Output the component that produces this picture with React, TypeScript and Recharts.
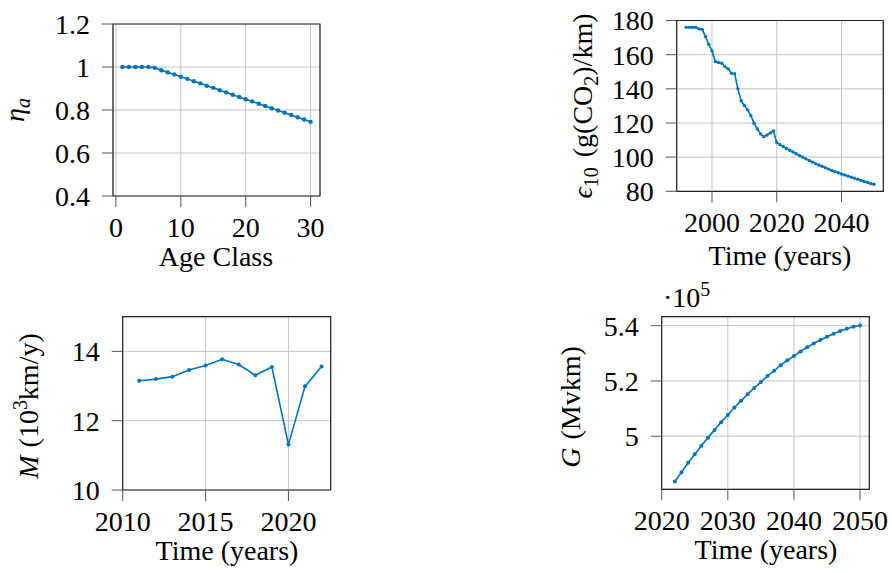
import React from 'react';
import { LineChart, Line, XAxis, YAxis, CartesianGrid, ReferenceArea } from 'recharts';

const FONT = 'Liberation Serif, DejaVu Serif, serif';
const BLUE = '#0072BD';
const FS = 28;

// Panel 1: efficiency by age class
const ageClasses = [1, 2, 3, 4, 5, 6, 7, 8, 9, 10, 11, 12, 13, 14, 15, 16, 17, 18, 19, 20, 21, 22, 23, 24, 25, 26, 27, 28, 29, 30];
const etaValues = [1, 1, 1, 1, 1, 0.996, 0.985, 0.975, 0.965, 0.955, 0.945, 0.934, 0.924, 0.913, 0.903, 0.892, 0.882, 0.871, 0.861, 0.85, 0.84, 0.829, 0.819, 0.808, 0.798, 0.787, 0.777, 0.766, 0.756, 0.745];

// Panel 2: emission factor
const emissionYears = [1992, 1993, 1994, 1995, 1996, 1997, 1998, 1999, 2000, 2001, 2002, 2003, 2004, 2005, 2006, 2007, 2008, 2009, 2010, 2011, 2012, 2013, 2014, 2015, 2016, 2017, 2018, 2019, 2020, 2021, 2022, 2023, 2024, 2025, 2026, 2027, 2028, 2029, 2030, 2031, 2032, 2033, 2034, 2035, 2036, 2037, 2038, 2039, 2040, 2041, 2042, 2043, 2044, 2045, 2046, 2047, 2048, 2049, 2050];
const emissionValues = [176, 176, 176, 176, 175.1, 174.7, 170.6, 166.1, 162.2, 156, 155.4, 155, 153, 151.7, 149.1, 148.8, 140, 133, 130.2, 127.7, 124.3, 119.8, 116.5, 113.6, 112, 113, 114.2, 115.3, 108.5, 107.3, 106.2, 105.1, 104.0, 103.0, 102.0, 101.0, 100.0, 99.0, 98.0, 97.1, 96.2, 95.4, 94.6, 93.8, 93.0, 92.2, 91.5, 90.8, 90.1, 89.5, 88.9, 88.3, 87.7, 87.1, 86.4, 85.8, 85.2, 84.6, 84.1];

// Panel 3: mileage
const mileageYears = [2011, 2012, 2013, 2014, 2015, 2016, 2017, 2018, 2019, 2020, 2021, 2022];
const mileageValues = [13.15, 13.2, 13.27, 13.46, 13.59, 13.77, 13.62, 13.31, 13.55, 11.31, 12.99, 13.56];

// Panel 4: total vehicle kilometres
const gYears = [2022, 2023, 2024, 2025, 2026, 2027, 2028, 2029, 2030, 2031, 2032, 2033, 2034, 2035, 2036, 2037, 2038, 2039, 2040, 2041, 2042, 2043, 2044, 2045, 2046, 2047, 2048, 2049, 2050];
const gValues = [483600, 487000, 490400, 493500, 496600, 499500, 502300, 505100, 507700, 510400, 512800, 515200, 517500, 519600, 521800, 523700, 525700, 527500, 529000, 530700, 532200, 533600, 534800, 536000, 537100, 538100, 538900, 539600, 540100];

// Tick labels
const etaXTicks = [0, 10, 20, 30];
const etaYTicks = [0.4, 0.6, 0.8, 1, 1.2];
const emXTicks = [2000, 2020, 2040];
const emYTicks = [80, 100, 120, 140, 160, 180];
const mXTicks = [2010, 2015, 2020];
const mYTicks = [10, 12, 14];
const gXTicks = [2020, 2030, 2040, 2050];
const gYTicks = [500000, 520000, 540000];

const zip = (xs: number[], vs: number[]) => xs.map((x, i) => ({ x, v: vs[i] }));

type PanelProps = {
  left: number;
  top: number;
  width: number;
  height: number;
  margin: { top: number; right: number; bottom: number; left: number };
  yWidth: number;
  xHeight: number;
  data: { x: number; v: number }[];
  xDomain: [number, number];
  yDomain: [number, number];
  xTicks: number[];
  yTicks: number[];
  yFormat?: (v: number) => string;
  dotR: number;
};

const tickStyle = { fontSize: FS, fill: '#000', fontFamily: FONT };

function Panel(p: PanelProps) {
  return (
    <div style={{ position: 'absolute', left: p.left, top: p.top, width: p.width, height: p.height }}>
      <LineChart width={p.width} height={p.height} data={p.data} margin={p.margin} style={{ fontFamily: FONT }}>
        <CartesianGrid stroke="#c4c4c4" strokeWidth={1} />
        <XAxis
          dataKey="x"
          type="number"
          domain={p.xDomain}
          ticks={p.xTicks}
          interval={0}
          allowDataOverflow
          height={p.xHeight}
          tickSize={11}
          tickMargin={10}
          axisLine={false}
          tickLine={{ stroke: '#555', strokeWidth: 1 }}
          tick={tickStyle}
        />
        <YAxis
          type="number"
          domain={p.yDomain}
          ticks={p.yTicks}
          interval={0}
          allowDataOverflow
          width={p.yWidth}
          tickSize={11}
          tickMargin={12}
          axisLine={false}
          tickLine={{ stroke: '#555', strokeWidth: 1 }}
          tick={tickStyle}
          tickFormatter={p.yFormat}
        />
        <ReferenceArea
          x1={p.xDomain[0]}
          x2={p.xDomain[1]}
          y1={p.yDomain[0]}
          y2={p.yDomain[1]}
          fill="none"
          fillOpacity={0}
          stroke="#222"
          strokeWidth={1.2}
          strokeOpacity={1}
          ifOverflow="visible"
        />
        <Line
          dataKey="v"
          type="linear"
          stroke={BLUE}
          strokeWidth={1.6}
          dot={{ r: p.dotR, fill: BLUE, stroke: BLUE, strokeWidth: 0 }}
          isAnimationActive={false}
        />
      </LineChart>
    </div>
  );
}

export default function App() {
  return (
    <div style={{ position: 'absolute', left: 0, top: 0, width: 892, height: 573, background: '#fff', fontFamily: FONT }}>
      <Panel
        left={0}
        top={0}
        width={340}
        height={250}
        margin={{ top: 24, right: 20, bottom: 10, left: 0 }}
        yWidth={113}
        xHeight={44}
        data={zip(ageClasses, etaValues)}
        xDomain={[-0.45, 31.45]}
        yDomain={[0.4, 1.2]}
        xTicks={etaXTicks}
        yTicks={etaYTicks}
        dotR={2.2}
      />
      <Panel
        left={600}
        top={0}
        width={292}
        height={250}
        margin={{ top: 20.5, right: 8.7, bottom: 14.7, left: 0 }}
        yWidth={76.7}
        xHeight={44}
        data={zip(emissionYears, emissionValues)}
        xDomain={[1989.1, 2052.9]}
        yDomain={[80, 180]}
        xTicks={emXTicks}
        yTicks={emYTicks}
        dotR={1.7}
      />
      <Panel
        left={0}
        top={290}
        width={340}
        height={250}
        margin={{ top: 26.7, right: 9.3, bottom: 6, left: 0 }}
        yWidth={122.7}
        xHeight={44}
        data={zip(mileageYears, mileageValues)}
        xDomain={[2010, 2022.55]}
        yDomain={[10, 15]}
        xTicks={mXTicks}
        yTicks={mYTicks}
        dotR={2}
      />
      <Panel
        left={560}
        top={290}
        width={332}
        height={250}
        margin={{ top: 26.7, right: 22.7, bottom: 6.7, left: 0 }}
        yWidth={101.7}
        xHeight={44}
        data={zip(gYears, gValues)}
        xDomain={[2020, 2051.4]}
        yDomain={[480800, 543260]}
        xTicks={gXTicks}
        yTicks={gYTicks}
        yFormat={(v: number) => String(Math.round(v / 1e4) / 10)}
        dotR={2}
      />
      <svg
        width={892}
        height={573}
        style={{ position: 'absolute', left: 0, top: 0, pointerEvents: 'none', fontFamily: FONT }}
        fontSize={FS}
        fill="#000"
      >
        {/* Panel 1 labels */}
        <text transform="translate(24,110) rotate(-90)" textAnchor="middle">
          <tspan fontStyle="italic">η</tspan>
          <tspan fontStyle="italic" fontSize={20} dy={6}>a</tspan>
        </text>
        <text x={216} y={266} textAnchor="middle">Age Class</text>

        {/* Panel 2 labels */}
        <text transform="translate(592,106) rotate(-90)" textAnchor="middle">
          <tspan fontStyle="italic">ϵ</tspan>
          <tspan fontSize={20} dy={6}>10</tspan>
          <tspan dy={-6} dx={10}>(g(CO</tspan>
          <tspan fontSize={20} dy={6}>2</tspan>
          <tspan dy={-6}>)/km)</tspan>
        </text>
        <text x={780} y={265} textAnchor="middle">Time (years)</text>

        {/* Panel 3 labels */}
        <text transform="translate(38,406) rotate(-90)" textAnchor="middle">
          <tspan fontStyle="italic">M</tspan>
          <tspan dx={8}>(10</tspan>
          <tspan fontSize={20} dy={-11}>3</tspan>
          <tspan dy={11}>km/y)</tspan>
        </text>
        <text x={227} y={560} textAnchor="middle">Time (years)</text>

        {/* Panel 4 labels */}
        <text transform="translate(580,407) rotate(-90)" textAnchor="middle">
          <tspan fontStyle="italic">G</tspan>
          <tspan dx={8}>(Mvkm)</tspan>
        </text>
        <text x={766} y={559} textAnchor="middle">Time (years)</text>
        <text x={663} y={307}>
          <tspan>·10</tspan>
          <tspan fontSize={20} dy={-11}>5</tspan>
        </text>
      </svg>
    </div>
  );
}
